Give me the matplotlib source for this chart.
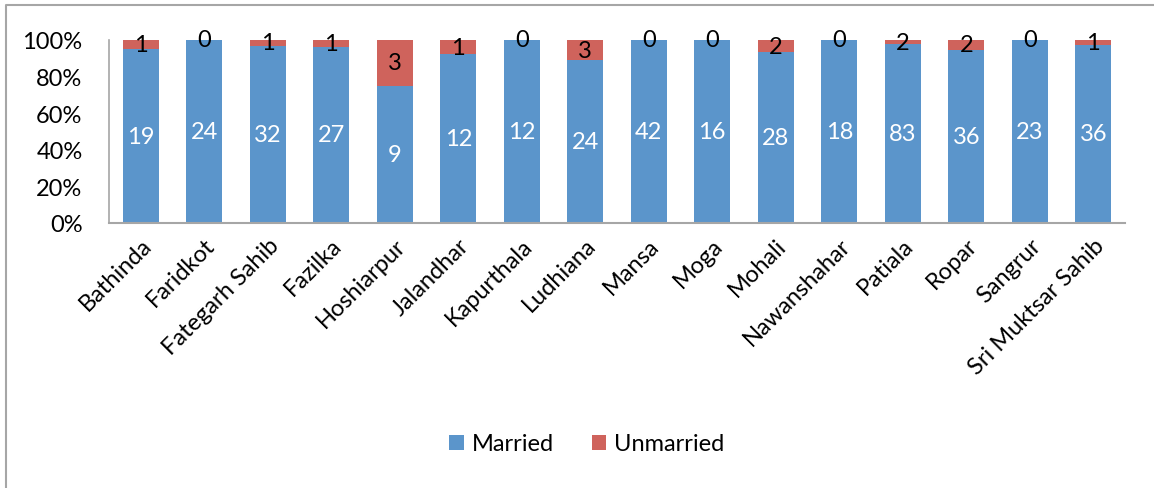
import numpy as np
from matplotlib import pyplot as plt
from matplotlib.lines import Line2D

districts = ["Bathinda", "Faridkot", "Fategarh Sahib", "Fazilka", "Hoshiarpur",
             "Jalandhar", "Kapurthala", "Ludhiana", "Mansa", "Moga", "Mohali",
             "Nawanshahar", "Patiala", "Ropar", "Sangrur", "Sri Muktsar Sahib"]
married = [19, 24, 32, 27, 9, 12, 12, 24, 42, 16, 28, 18, 83, 36, 23, 36]
unmarried = [1, 0, 1, 1, 3, 1, 0, 3, 0, 0, 2, 0, 2, 2, 0, 1]

plt.rcParams['font.family'] = ['Lato', 'DejaVu Sans']
fs = 17

m = np.array(married, dtype=float)
u = np.array(unmarried, dtype=float)
tot = m + u
pm = m / tot
pu = u / tot
x = np.arange(len(districts))

fig = plt.figure(figsize=(11.54, 4.89), dpi=100)
ax = fig.add_axes([109 / 1154, 1 - 224 / 489, 1016 / 1154, 183 / 489])

ax.bar(x, pm, width=0.57, color="#5B95CB", label="Married")
ax.bar(x, pu, width=0.57, bottom=pm, color="#CF635C", label="Unmarried")

for i in range(len(x)):
    ax.text(x[i], pm[i] / 2, str(married[i]), ha="center", va="center",
            color="white", fontsize=fs)
    ax.text(x[i], pm[i] + pu[i] / 2, str(unmarried[i]), ha="center", va="center",
            color="black", fontsize=fs)

ax.set_xlim(-0.5, len(x) - 0.5)
ax.set_ylim(0, 1)
ax.set_yticks(np.arange(0, 1.01, 0.2))
ax.set_yticklabels([f"{int(v * 100)}%" for v in np.arange(0, 1.01, 0.2)], fontsize=fs)
ax.set_xticks(x)
ax.set_xticklabels(districts, rotation=45, ha="right", rotation_mode="anchor", fontsize=fs)
ax.tick_params(axis="x", length=0, pad=8)
ax.tick_params(axis="y", length=0, pad=19)
for s in ["top", "right"]:
    ax.spines[s].set_visible(False)
ax.spines["left"].set_color("#A6A6A6")
ax.spines["bottom"].set_color("#A6A6A6")
ax.spines["left"].set_linewidth(1.2)
ax.spines["bottom"].set_linewidth(1.5)

fig.legend(loc="center", bbox_to_anchor=(587 / 1154, 1 - 445 / 489), ncol=2,
           frameon=False, fontsize=fs, handlelength=0.6, handleheight=0.6,
           columnspacing=1.6, handletextpad=0.35)

# chart frame, only left and top edges are inside the screenshot
x0 = 6 / 1154
y0 = 1 - 6 / 489
fig.lines.append(Line2D([x0, x0, 1.0], [0.0, y0, y0], transform=fig.transFigure,
                        color="#A6A6A6", linewidth=1.5))

fig.savefig("out.png", dpi=100)
